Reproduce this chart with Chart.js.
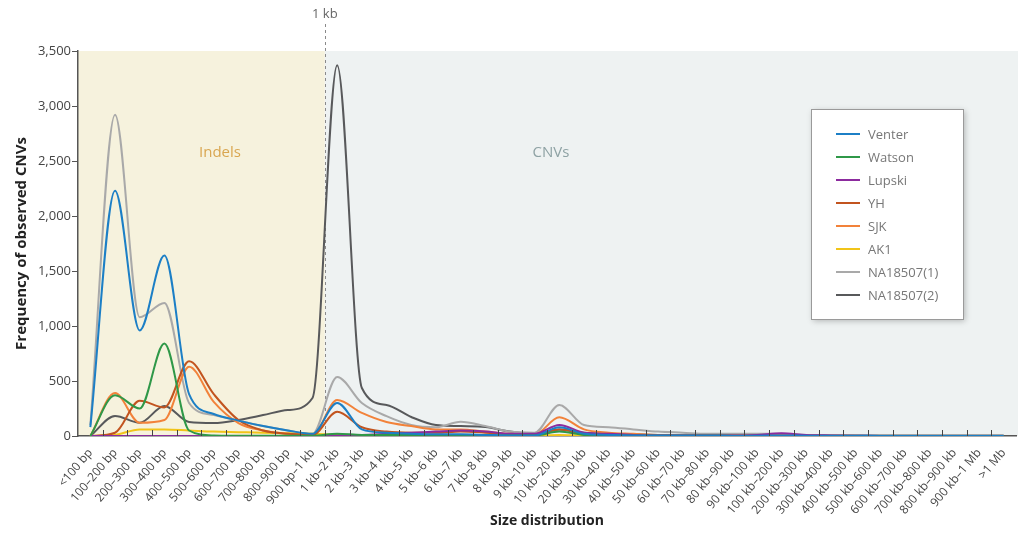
<!DOCTYPE html>
<html lang="en">
<head>
  <meta charset="UTF-8">
  <title>Size distribution of observed CNVs</title>
  <script src="https://cdn.jsdelivr.net/npm/chart.js"></script>
  <style>
    html, body {
      margin: 0;
      padding: 0;
      background: #fff;
    }
    #wrap {
      position: relative;
      width: 1018px;
      height: 533px;
    }
  </style>
</head>
<body>

<div id="wrap"><canvas id="sizeChart"></canvas></div>

<script>
const categories = [
  '<100 bp', '100–200 bp', '200–300 bp', '300–400 bp', '400–500 bp', '500–600 bp',
  '600–700 bp', '700–800 bp', '800–900 bp', '900 bp–1 kb', '1 kb–2 kb', '2 kb–3 kb',
  '3 kb–4 kb', '4 kb–5 kb', '5 kb–6 kb', '6 kb–7 kb', '7 kb–8 kb', '8 kb–9 kb',
  '9 kb–10 kb', '10 kb–20 kb', '20 kb–30 kb', '30 kb–40 kb', '40 kb–50 kb', '50 kb–60 kb',
  '60 kb–70 kb', '70 kb–80 kb', '80 kb–90 kb', '90 kb–100 kb', '100 kb–200 kb', '200 kb–300 kb',
  '300 kb–400 kb', '400 kb–500 kb', '500 kb–600 kb', '600 kb–700 kb', '700 kb–800 kb',
  '800 kb–900 kb', '900 kb–1 Mb', '>1 Mb'
];

const venter  = [80, 2230, 960, 1640, 380, 200, 140, 90, 50, 20, 300, 60, 30, 20, 15, 15, 10, 5, 5, 80, 20, 10, 5, 5, 5, 5, 3, 3, 5, 3, 2, 2, 1, 1, 1, 1, 1, 1];
const watson  = [0, 370, 250, 840, 50, 5, 3, 2, 2, 2, 20, 10, 10, 10, 10, 10, 5, 5, 5, 40, 10, 5, 3, 2, 2, 2, 1, 1, 1, 1, 0, 0, 0, 0, 0, 0, 0, 0];
const lupski  = [0, 0, 0, 0, 0, 0, 0, 0, 0, 0, 5, 10, 20, 30, 40, 50, 40, 20, 20, 100, 30, 20, 10, 5, 5, 5, 5, 10, 25, 10, 5, 2, 0, 0, 0, 0, 0, 0];
const yh      = [0, 30, 320, 260, 680, 380, 145, 50, 20, 10, 220, 80, 40, 30, 30, 40, 30, 15, 10, 60, 20, 10, 5, 5, 3, 3, 2, 2, 2, 2, 1, 1, 0, 0, 0, 0, 0, 0];
const sjk     = [0, 390, 120, 145, 630, 310, 118, 50, 20, 10, 327, 210, 127, 90, 60, 60, 40, 20, 15, 170, 60, 30, 20, 10, 10, 5, 5, 5, 5, 3, 2, 1, 1, 0, 0, 0, 0, 0];
const ak1     = [0, 10, 60, 60, 50, 40, 35, 30, 25, 20, 10, 5, 5, 5, 5, 5, 5, 5, 5, 10, 5, 5, 5, 5, 5, 5, 5, 5, 3, 3, 2, 2, 0, 0, 0, 0, 0, 0];
const na18507a = [100, 2920, 1080, 1210, 300, 190, 140, 90, 50, 20, 536, 300, 180, 100, 80, 130, 90, 40, 30, 282, 100, 80, 60, 40, 30, 20, 20, 20, 20, 10, 5, 5, 3, 2, 2, 2, 2, 2];
const na18507b = [0, 182, 120, 273, 127, 118, 145, 190, 236, 345, 3370, 436, 282, 173, 100, 90, 82, 40, 20, 60, 30, 20, 15, 10, 10, 10, 10, 10, 10, 5, 5, 5, 5, 5, 5, 5, 5, 5];

const seriesNames  = ['Venter', 'Watson', 'Lupski', 'YH', 'SJK', 'AK1', 'NA18507(1)', 'NA18507(2)'];
const seriesValues = [venter, watson, lupski, yh, sjk, ak1, na18507a, na18507b];
const seriesColors = ['#1c7fc6', '#2f9848', '#8c2b9e', '#c2541f', '#f2823a', '#f1c419', '#a9a9a9', '#58595b'];

const yMax = 3500;
const yStep = 500;
const splitIndex = 9.5; // boundary between "900 bp–1 kb" and "1 kb–2 kb"

const FONT = '"Open Sans", "Noto Sans", sans-serif';

const backdrop = {
  id: 'backdrop',
  beforeDraw(chart) {
    const {ctx, chartArea: a, scales: {x}} = chart;
    const split = x.getPixelForValue(splitIndex);
    ctx.save();
    ctx.fillStyle = '#f6f2dd';
    ctx.fillRect(a.left, a.top, split - a.left, a.bottom - a.top);
    ctx.fillStyle = '#eef2f2';
    ctx.fillRect(split, a.top, chart.width - split, a.bottom - a.top);

    ctx.strokeStyle = '#8a8a8a';
    ctx.lineWidth = 1;
    ctx.setLineDash([3, 3]);
    ctx.beginPath();
    ctx.moveTo(Math.round(split) + 0.5, 24);
    ctx.lineTo(Math.round(split) + 0.5, a.bottom);
    ctx.stroke();
    ctx.setLineDash([]);

    ctx.font = '13px ' + FONT;
    ctx.fillStyle = '#666';
    ctx.textAlign = 'center';
    ctx.textBaseline = 'middle';
    ctx.fillText('1 kb', split, 14);

    ctx.font = '15px ' + FONT;
    ctx.fillStyle = '#d9a650';
    ctx.fillText('Indels', 220, 153);
    ctx.fillStyle = '#8ea2a4';
    ctx.fillText('CNVs', 551, 153);
    ctx.restore();
  },
  afterDatasetsDraw(chart) {
    const {ctx, chartArea: a, scales: {x}} = chart;
    ctx.save();
    // inward tick marks at category boundaries
    ctx.strokeStyle = '#444';
    ctx.lineWidth = 1;
    ctx.beginPath();
    for (let i = 1; i < categories.length; i++) {
      const px = Math.round(x.getPixelForValue(i - 0.5)) + 0.5;
      ctx.moveTo(px, a.bottom);
      ctx.lineTo(px, a.bottom - 6);
    }
    ctx.stroke();

    // legend box
    const bx = 811, by = 109, bw = 152, bh = 210;
    ctx.shadowColor = 'rgba(0,0,0,0.25)';
    ctx.shadowBlur = 6;
    ctx.shadowOffsetX = 2;
    ctx.shadowOffsetY = 2;
    ctx.fillStyle = '#fff';
    ctx.fillRect(bx, by, bw, bh);
    ctx.shadowColor = 'transparent';
    ctx.strokeStyle = '#9a9a9a';
    ctx.strokeRect(bx + 0.5, by + 0.5, bw, bh);

    ctx.font = '13px ' + FONT;
    ctx.textAlign = 'left';
    ctx.textBaseline = 'middle';
    chart.data.datasets.forEach((ds, i) => {
      const yy = 134 + i * 23;
      ctx.strokeStyle = ds.borderColor;
      ctx.lineWidth = 2;
      ctx.beginPath();
      ctx.moveTo(836, yy);
      ctx.lineTo(860, yy);
      ctx.stroke();
      ctx.fillStyle = '#777';
      ctx.fillText(ds.label, 868, yy + 1);
    });
    ctx.restore();
  }
};

new Chart(document.getElementById('sizeChart'), {
  type: 'line',
  data: {
    labels: categories,
    datasets: seriesNames.map((name, i) => ({
      label: name,
      data: seriesValues[i],
      borderColor: seriesColors[i],
      backgroundColor: seriesColors[i],
      borderWidth: 2,
      pointRadius: 0,
      fill: false,
      cubicInterpolationMode: 'monotone'
    }))
  },
  options: {
    responsive: true,
    maintainAspectRatio: false,
    animation: false,
    layout: { padding: { top: 51, right: 2, bottom: 0, left: 0 } },
    plugins: {
      legend: { display: false },
      tooltip: { enabled: false }
    },
    scales: {
      x: {
        offset: true,
        grid: { display: false },
        border: { display: true, color: '#555', width: 1.5 },
        ticks: {
          autoSkip: false,
          maxRotation: 50,
          minRotation: 50,
          padding: 2,
          color: '#444',
          font: { family: FONT, size: 12 }
        },
        title: {
          display: true,
          text: 'Size distribution',
          color: '#222',
          padding: { top: 0, bottom: 4 },
          font: { family: FONT, size: 14, weight: 'bold' }
        },
        afterFit(scale) { scale.height = 97; }
      },
      y: {
        min: 0,
        max: yMax,
        grid: { drawOnChartArea: false, tickLength: 6, color: '#555' },
        border: { display: true, color: '#555', width: 1.5 },
        ticks: {
          stepSize: yStep,
          padding: 1,
          color: '#444',
          font: { family: FONT, size: 13 },
          callback: v => v.toLocaleString('en-US')
        },
        title: {
          display: true,
          text: 'Frequency of observed CNVs',
          color: '#222',
          padding: { top: 13, bottom: 0 },
          font: { family: FONT, size: 15, weight: 'bold' }
        },
        afterFit(scale) { scale.width = 78; }
      }
    }
  },
  plugins: [backdrop]
});
</script>

</body>
</html>
